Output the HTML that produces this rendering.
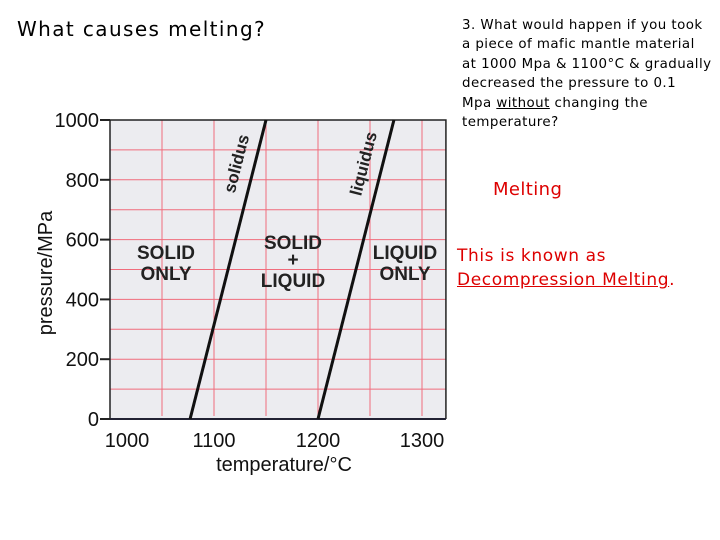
<!DOCTYPE html>
<html><head><meta charset="utf-8"><style>
body{margin:0;width:720px;height:540px;background:#fff;position:relative;overflow:hidden;font-family:"DejaVu Sans","Liberation Sans",sans-serif}
.t{position:absolute;white-space:nowrap}
</style></head><body>
<div class="t" style="left:17px;top:17px;font-size:20px;color:#000;letter-spacing:1.4px">What causes melting?</div>
<div class="t" style="left:462px;top:16px;font-size:13.4px;line-height:19.4px;color:#000;letter-spacing:0.45px">3. What would happen if you took<br>a piece of mafic mantle material<br>at 1000 Mpa &amp; 1100°C &amp; gradually<br>decreased the pressure to 0.1<br>Mpa <u>without</u> changing the<br>temperature?</div>
<div class="t" style="left:493px;top:179px;font-size:18px;color:#d00;letter-spacing:0.4px">Melting</div>
<div class="t" style="left:457px;top:244px;font-size:17px;line-height:24px;color:#d00;letter-spacing:0.6px">This is known as<br><u>Decompression Melting</u>.</div>
<svg id="chart" width="720" height="540" style="position:absolute;left:0;top:0" font-family="'Liberation Sans',Arial,sans-serif"></svg>
<script>
const xTicks=[1000,1100,1200,1300];
const yTicks=[0,200,400,600,800,1000];
const solidusT=[1077,1150];
const solidusP=[0,1000];
const liquidusT=[1200,1273];
const liquidusP=[0,1000];
const NS='http://www.w3.org/2000/svg';
const svg=document.getElementById('chart');
const x=t=>110+(t-1000)*1.04;
const y=p=>419-p*0.299;
const xmax=1323;
function mk(tag,a,parent){const e=document.createElementNS(NS,tag);for(const k in a)e.setAttribute(k,a[k]);(parent||svg).appendChild(e);return e;}
const bg=mk('rect',{x:x(1000),y:y(1000),width:x(xmax)-x(1000),height:y(0)-y(1000),fill:'#ececf0'});


for(let t=1050;t<xmax;t+=50){const g=mk('line',{x1:x(t),x2:x(t),y1:y(1000),y2:y(0)-3,stroke:'#f06c7c','stroke-width':1});

}
for(let p=100;p<1000;p+=100){const g=mk('line',{x1:x(1000),x2:x(xmax),y1:y(p),y2:y(p),stroke:'#f06c7c','stroke-width':1});

}
const frame=mk('path',{d:`M${x(1000)},${y(0)}V${y(1000)}H${x(xmax)}V${y(0)}`,fill:'none',stroke:'#222','stroke-width':1.5});


const xa=mk('line',{x1:x(1000),x2:x(xmax),y1:y(0),y2:y(0),stroke:'#223','stroke-width':2});


xTicks.forEach((t,i)=>{const l=mk('text',{x:x(t)+(i===0?17:0),y:447,'text-anchor':'middle','font-size':20,fill:'#111'});l.textContent=t;

});
yTicks.forEach(p=>{const tk=mk('line',{x1:x(1000)-10,x2:x(1000),y1:y(p),y2:y(p),stroke:'#222','stroke-width':2});


const l=mk('text',{x:x(1000)-11,y:y(p)+7,'text-anchor':'end','font-size':20,fill:'#111'});l.textContent=p;

});
const xt=mk('text',{x:284,y:471,'text-anchor':'middle','font-size':20,fill:'#111'});xt.textContent='temperature/°C';


const yt=mk('text',{x:52,y:273,'text-anchor':'middle','font-size':20,fill:'#111',transform:'rotate(-90 52 273)'});yt.textContent='pressure/MPa';


const sl=mk('line',{x1:x(solidusT[0]),y1:y(solidusP[0]),x2:x(solidusT[1]),y2:y(solidusP[1]),stroke:'#111','stroke-width':3});


const ll=mk('line',{x1:x(liquidusT[0]),y1:y(liquidusP[0]),x2:x(liquidusT[1]),y2:y(liquidusP[1]),stroke:'#111','stroke-width':3});


const ang=-Math.atan2(y(0)-y(1000),x(solidusT[1])-x(solidusT[0]))*180/Math.PI;
function lbl(txt,cx,cy,rot,name,fs){const e=mk('text',{x:cx,y:cy,'text-anchor':'middle','font-size':fs||19,'font-weight':'bold',fill:'#222',transform:rot?`rotate(${rot} ${cx} ${cy})`:''});e.textContent=txt;

}
lbl('solidus',242,165,ang,'solidus-label',17);
lbl('liquidus',369,165,ang,'liquidus-label',17);
lbl('SOLID',166,259,0,'solid-only-label');lbl('ONLY',166,280,0,'solid-only-label-2');
lbl('SOLID',293,249,0,'solid-liquid-label');lbl('+',293,266,0,'solid-liquid-plus');lbl('LIQUID',293,287,0,'solid-liquid-label-2');
lbl('LIQUID',405,259,0,'liquid-only-label');lbl('ONLY',405,280,0,'liquid-only-label-2');
</script>
</body></html>
